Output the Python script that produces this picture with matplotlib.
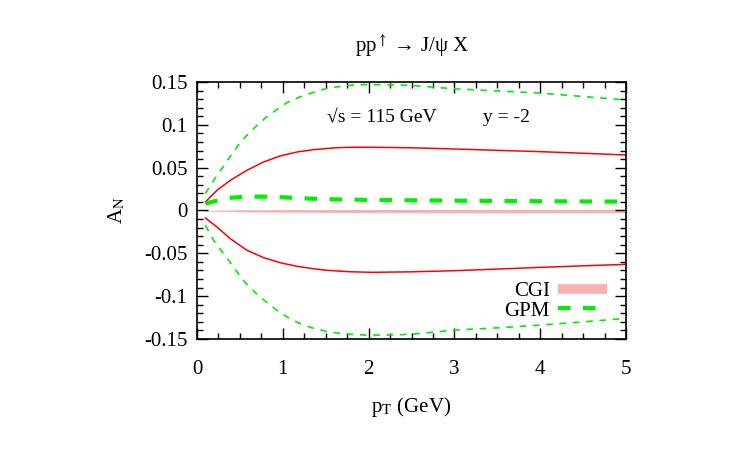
import matplotlib
matplotlib.use("Agg")
import matplotlib.pyplot as plt
from matplotlib.ticker import MultipleLocator

plt.rcParams["font.family"] = ["Liberation Serif", "DejaVu Serif"]
plt.rcParams["mathtext.fontset"] = "stix"

# GPM upper / lower bounds (thin dashed)
pt_gpm_up = [0.097, 0.194, 0.29, 0.369, 0.466, 0.563, 0.68, 0.796, 0.932, 1.05, 1.2, 1.36,
             1.476, 1.61, 1.8, 1.96, 2.2, 2.5, 3.0, 3.5, 4.0, 4.5, 5.0]
an_gpm_up = [0.0196, 0.0353, 0.0489, 0.0605, 0.0742, 0.0859, 0.0975, 0.108, 0.118, 0.126, 0.1326, 0.138,
             0.1416, 0.144, 0.1462, 0.147, 0.1468, 0.146, 0.142, 0.1396, 0.137, 0.133, 0.129]
pt_gpm_lo = [0.097, 0.194, 0.28, 0.369, 0.466, 0.563, 0.68, 0.796, 0.932, 1.05, 1.185, 1.34,
             1.496, 1.61, 1.78, 1.96, 2.2, 2.5, 3.0, 3.5, 4.0, 4.5, 5.0]
an_gpm_lo = [-0.0173, -0.0348, -0.0465, -0.0582, -0.0718, -0.0843, -0.096, -0.106, -0.1166, -0.1244, -0.1314, -0.137,
             -0.1408, -0.1427, -0.1445, -0.1454, -0.1455, -0.1445, -0.1396, -0.137, -0.1338, -0.130, -0.126]

# GPM central (thick dashed)
pt_gpm = [0.097, 0.35, 0.583, 0.816, 1.09, 1.32, 1.6, 2.04, 2.5, 3.0, 4.0, 5.0]
an_gpm = [0.008, 0.0146, 0.0161, 0.0161, 0.015, 0.0138, 0.013, 0.0123, 0.0119, 0.0115, 0.0108, 0.0103]

# red solid bounds
pt_red_up = [0.097, 0.233, 0.389, 0.583, 0.777, 0.971, 1.166, 1.36, 1.496, 1.61, 1.8, 2.04,
             2.5, 3.0, 3.5, 4.0, 4.5, 5.0]
an_red_up = [0.0099, 0.0236, 0.0353, 0.047, 0.0567, 0.0637, 0.0683, 0.071, 0.0722, 0.0732, 0.0738, 0.0738,
             0.0732, 0.0718, 0.0702, 0.0687, 0.0668, 0.0648]
pt_red_lo = [0.097, 0.233, 0.389, 0.583, 0.777, 0.971, 1.166, 1.36, 1.507, 1.78, 2.04,
             2.5, 3.0, 3.5, 4.0, 4.5, 5.0]
an_red_lo = [-0.0088, -0.0193, -0.033, -0.0465, -0.0551, -0.061, -0.0652, -0.068, -0.0698, -0.0715, -0.0722,
             -0.0716, -0.0703, -0.0684, -0.0664, -0.0646, -0.0629]

# CGI band
pt_cgi = [0.05, 0.5, 1.0, 2.0, 3.0, 4.0, 5.0]
cgi_hi = [0.0, 0.0008, 0.001, 0.0012, 0.0013, 0.0014, 0.0014]
cgi_lo = [-0.0005, -0.0015, -0.002, -0.0024, -0.0025, -0.0026, -0.0026]

fig = plt.figure(figsize=(7.5, 4.5), dpi=100)
ax = fig.add_axes([0.2627, 0.2467, 0.572, 0.5711])

ax.fill_between(pt_cgi, cgi_lo, cgi_hi, color="#f8b0b0", lw=0)
ax.plot(pt_red_up, an_red_up, color="#ff0000", lw=1.1)
ax.plot(pt_red_lo, an_red_lo, color="#ff0000", lw=1.1)
ax.plot(pt_gpm_up, an_gpm_up, color="#00ee00", lw=1.2, dashes=(4, 4))
ax.plot(pt_gpm_lo, an_gpm_lo, color="#00ee00", lw=1.2, dashes=(4, 4))
ax.plot(pt_gpm, an_gpm, color="#00ee00", lw=3, dashes=(3, 3))

# legend handles
ax.plot([], [], color="#f8b0b0", lw=7, solid_capstyle="butt", label="CGI")
ax.plot([], [], color="#00ee00", lw=3, dashes=(3, 3), label="GPM")
handles, labels = ax.get_legend_handles_labels()
ax.legend(handles, labels, loc="center right", bbox_to_anchor=(0.956, 0.148),
          frameon=False, markerfirst=False, fontsize=15, handlelength=2.35,
          handletextpad=0.4, labelspacing=0.0, borderaxespad=0, borderpad=0)

ax.text(1.515, 0.108, "√s = 115 GeV", fontsize=14, va="center")
ax.text(3.33, 0.108, "y = -2", fontsize=14, va="center")

ax.set_xlim(0, 5)
ax.set_ylim(-0.15, 0.15)
ax.xaxis.set_major_locator(MultipleLocator(1))
ax.xaxis.set_minor_locator(MultipleLocator(0.25))
ax.yaxis.set_major_locator(MultipleLocator(0.05))
ax.yaxis.set_minor_locator(MultipleLocator(0.01))
ax.set_yticks([-0.15, -0.1, -0.05, 0, 0.05, 0.1, 0.15])
ax.set_yticklabels(["-0.15", "-0.1", "-0.05", "0", "0.05", "0.1", "0.15"])
ax.tick_params(which="both", direction="in", top=True, right=True, labelsize=15)
ax.tick_params(axis="x", which="both", pad=15)
ax.tick_params(axis="y", which="both", pad=7)
ax.tick_params(which="major", length=8, width=1)
ax.tick_params(which="minor", length=4, width=1)
for s in ax.spines.values():
    s.set_linewidth(1.2)

ax.set_xlabel(r"p$_{\mathrm{T}}$ (GeV)", fontsize=15, labelpad=12)
ax.set_ylabel(r"A$_{\mathrm{N}}$", fontsize=15, labelpad=12)
ax.set_title(r"pp$^{\uparrow}$ → J/ψ X", fontsize=15, pad=22)

fig.savefig("out.png", dpi=100)
